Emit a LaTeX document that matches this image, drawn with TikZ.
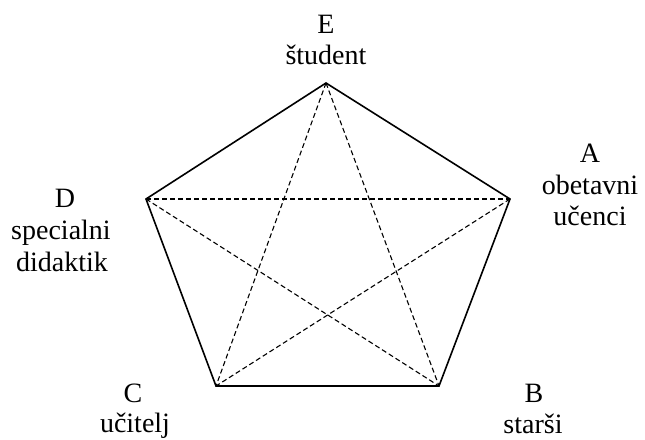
\documentclass[tikz,border=0pt]{standalone}
\usepackage{fontspec}
\setmainfont{Liberation Serif}
\begin{document}
\begin{tikzpicture}[x=1pt,y=-1pt,
  lbl/.style={anchor=base,inner sep=0pt,font=\fontsize{28}{32}\selectfont},
  edge/.style={line width=1.6pt},
  diag/.style={line width=1.1pt,dash pattern=on 5pt off 3pt}]
\useasboundingbox (0,0) rectangle (645,439);
\coordinate (E) at (326,83);
\coordinate (A) at (510,199);
\coordinate (B) at (439,386);
\coordinate (C) at (216,386);
\coordinate (D) at (146,199);
\draw[diag] (E) -- (B);
\draw[diag] (E) -- (C);
\draw[diag] (D) -- (A);
\draw[diag] (D) -- (B);
\draw[diag] (A) -- (C);
\draw[edge,line join=miter] (E) -- (A) -- (B) -- (C) -- (D) -- cycle;
\node[lbl] (eL) at (326,33) {E};
\node[lbl] (eT) at (326,64) {študent};
\node[lbl] (aL) at (590,162) {A};
\node[lbl] (aT1) at (590,194) {obetavni};
\node[lbl] (aT2) at (590,225) {učenci};
\node[lbl] (dL) at (65,207) {D};
\node[lbl] (dT1) at (61,239) {specialni};
\node[lbl] (dT2) at (62,271) {didaktik};
\node[lbl] (cL) at (133,402) {C};
\node[lbl] (cT) at (135,432) {učitelj};
\node[lbl] (bL) at (534,402) {B};
\node[lbl] (bT) at (533,433) {starši};
\end{tikzpicture}
\end{document}
